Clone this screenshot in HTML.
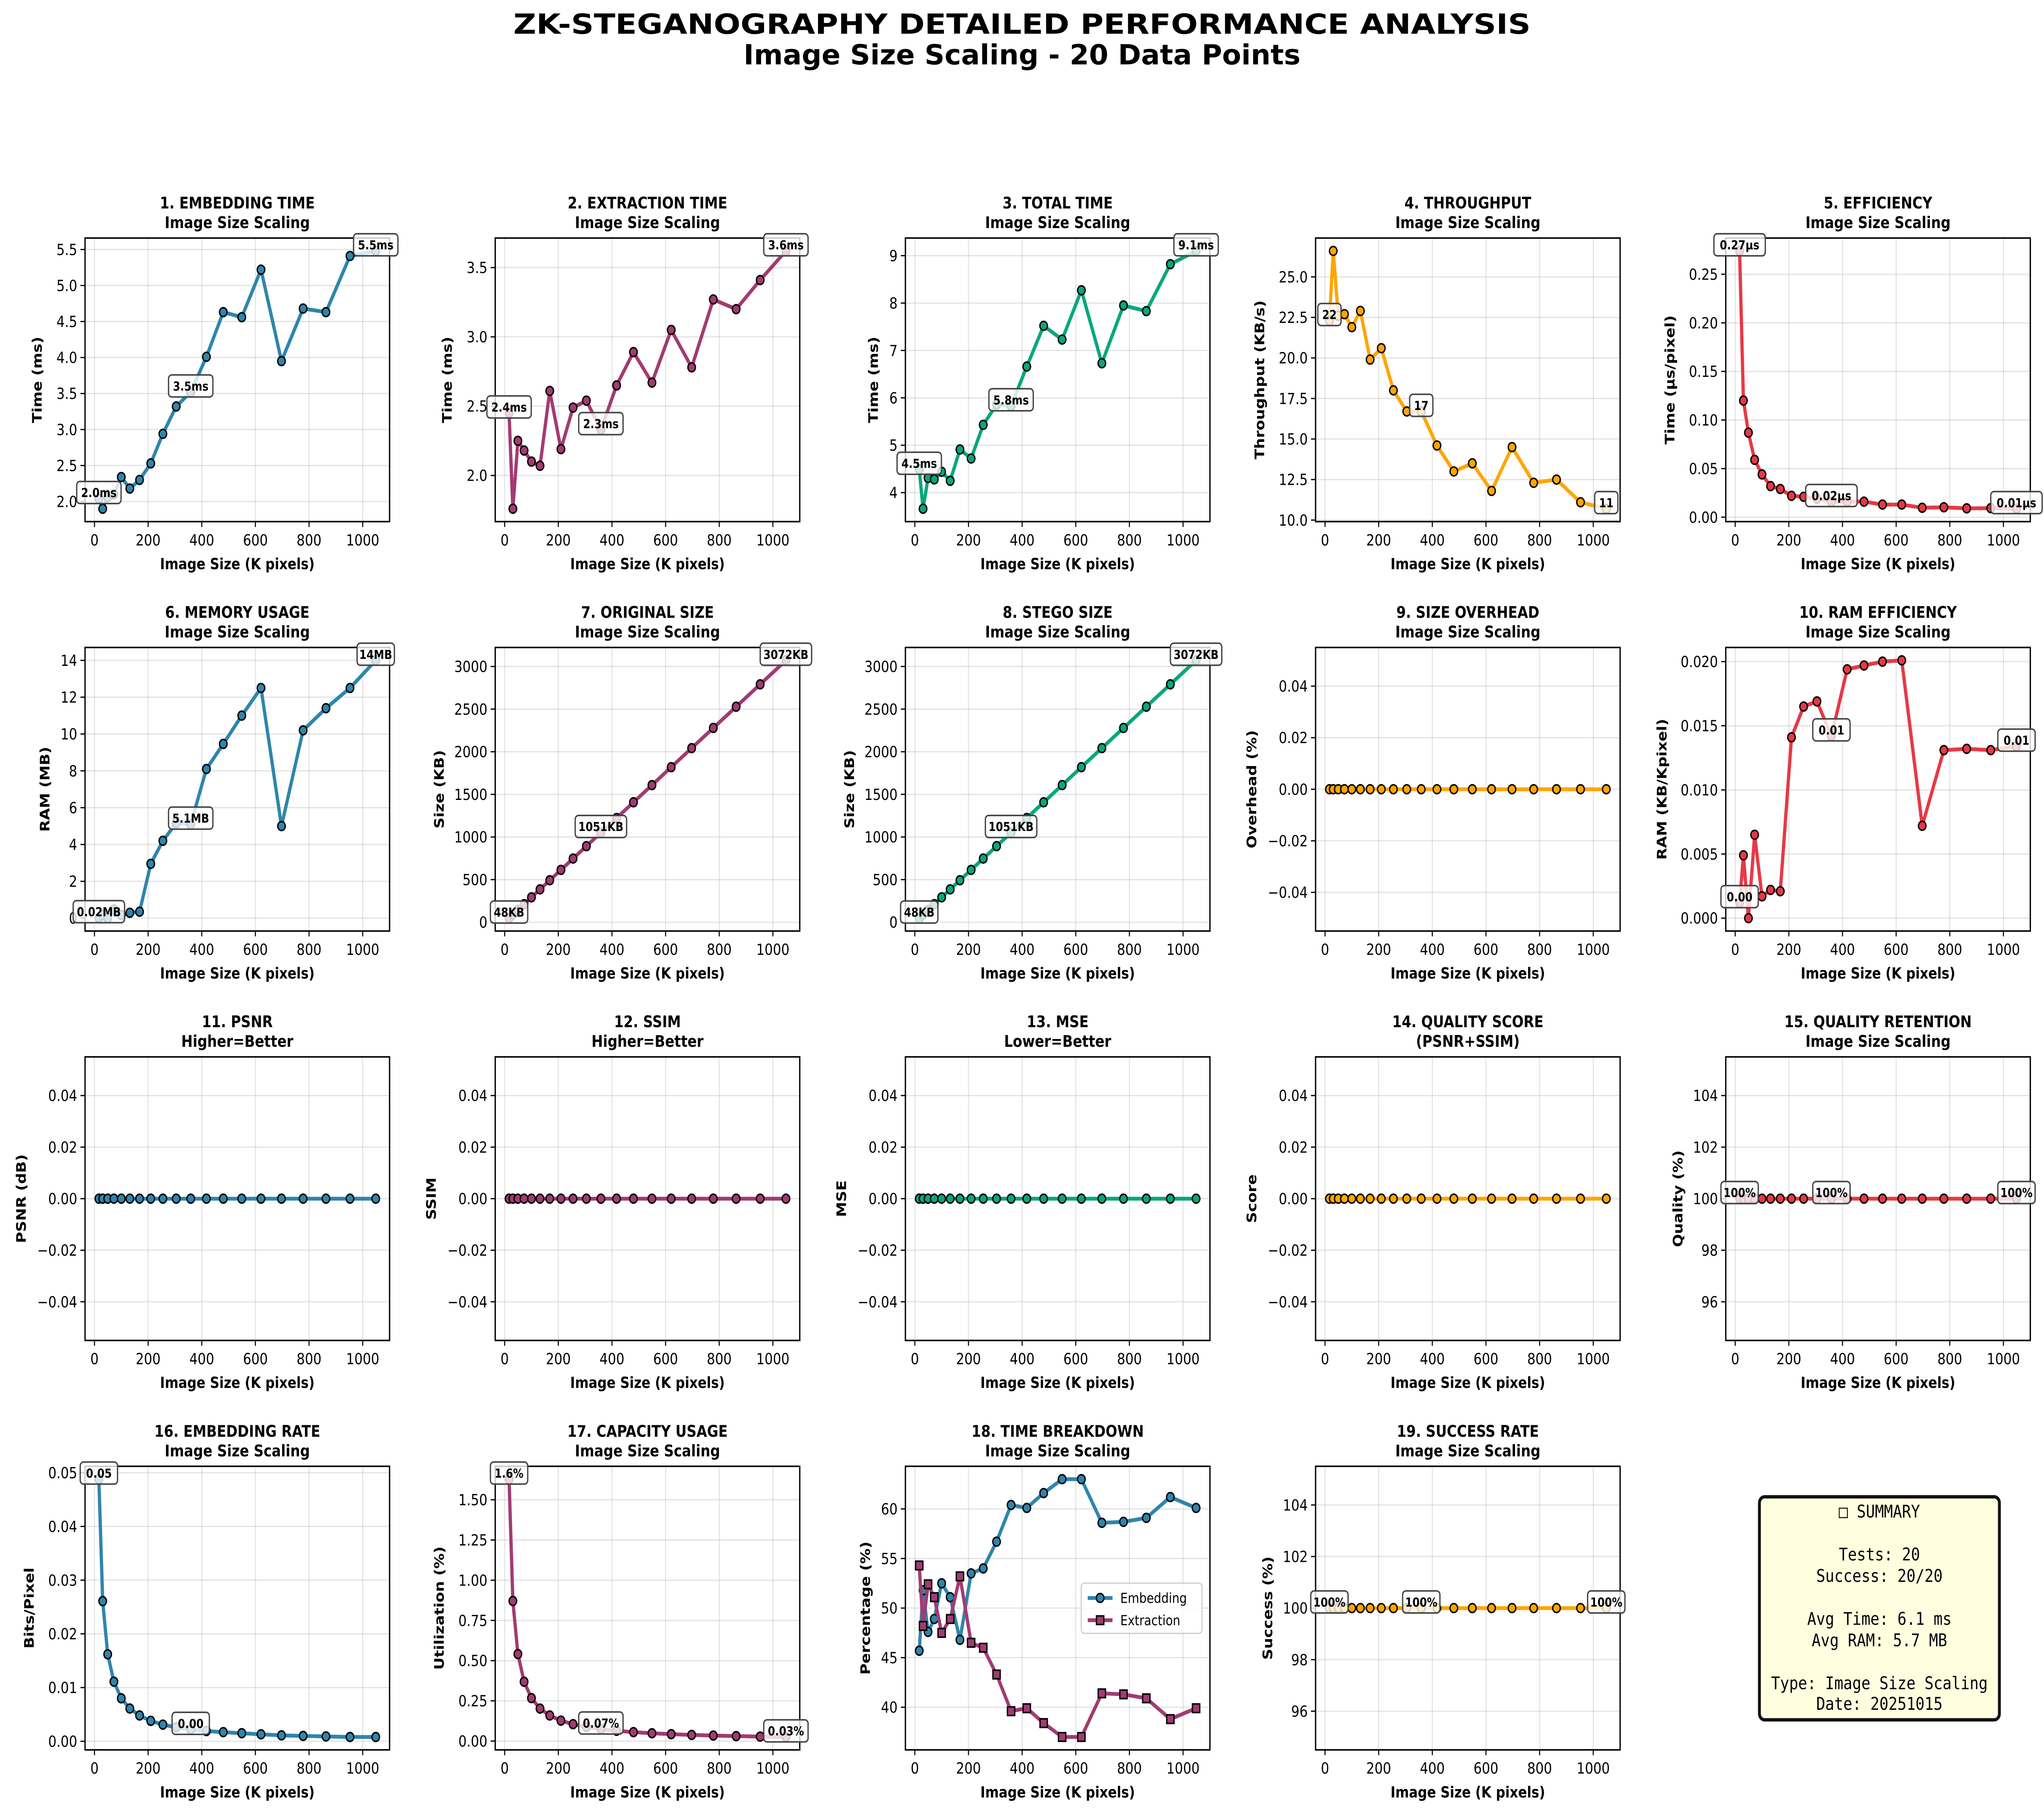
<!DOCTYPE html>
<html><head><meta charset="utf-8"><title>ZK-Steganography Performance</title>
<style>
html,body{margin:0;padding:0;background:#fff;overflow:hidden;width:100vw;height:100vh;}
#fig{display:block;width:100vw;height:100vh;}
text{font-family:"DejaVu Sans","Liberation Sans",sans-serif;}
</style></head>
<body>
<svg id="fig" xmlns="http://www.w3.org/2000/svg" viewBox="0 0 1567.2 1182.13" preserveAspectRatio="none">
<rect x="0" y="0" width="1567.2" height="1182.13" fill="#fff"/>
<text x="783.6" y="22" text-anchor="middle" font-size="18" font-weight="bold" textLength="780" lengthAdjust="spacingAndGlyphs">ZK-STEGANOGRAPHY DETAILED PERFORMANCE ANALYSIS</text>
<text x="783.6" y="42" text-anchor="middle" font-size="18" font-weight="bold" textLength="427" lengthAdjust="spacingAndGlyphs">Image Size Scaling - 20 Data Points</text>
<g id="panels"></g>
<g>
<rect x="1349" y="976.5" width="184" height="145.5" rx="4" fill="#FFFFE0" stroke="#111" stroke-width="2.2"/>
<g font-size="11.5" text-anchor="middle" fill="#000">
<text x="1441" y="990" style="font-family:'DejaVu Sans Mono','Liberation Mono',monospace">□ SUMMARY</text>
<text x="1441" y="1018" style="font-family:'DejaVu Sans Mono','Liberation Mono',monospace">Tests: 20</text>
<text x="1441" y="1032" style="font-family:'DejaVu Sans Mono','Liberation Mono',monospace">Success: 20/20</text>
<text x="1441" y="1060" style="font-family:'DejaVu Sans Mono','Liberation Mono',monospace">Avg Time: 6.1 ms</text>
<text x="1441" y="1074" style="font-family:'DejaVu Sans Mono','Liberation Mono',monospace">Avg RAM: 5.7 MB</text>
<text x="1441" y="1102" style="font-family:'DejaVu Sans Mono','Liberation Mono',monospace">Type: Image Size Scaling</text>
<text x="1441" y="1115.5" style="font-family:'DejaVu Sans Mono','Liberation Mono',monospace">Date: 20251015</text>
</g>
</g>
</svg>
<script>
const xs=[16.4,30.6,49.3,72.4,99.9,131.8,168.1,209.8,255.0,304.7,358.8,417.3,480.2,549.1,620.9,697.2,777.9,863.0,952.6,1048.6];
const embTime=[2.04,1.90,2.06,2.10,2.34,2.18,2.30,2.53,2.94,3.32,3.52,4.01,4.63,4.56,5.22,3.95,4.68,4.63,5.41,5.48];
const extTime=[2.45,1.76,2.25,2.18,2.10,2.07,2.61,2.19,2.49,2.54,2.33,2.65,2.89,2.67,3.05,2.78,3.27,3.20,3.41,3.62];
const totalTime=[4.49,3.66,4.31,4.28,4.44,4.25,4.91,4.72,5.43,5.86,5.83,6.66,7.52,7.23,8.27,6.73,7.95,7.83,8.82,9.10];
const throughput=[22.3,26.6,22.6,22.7,21.9,22.9,19.9,20.6,18.0,16.7,16.7,14.6,13.0,13.5,11.8,14.5,12.3,12.5,11.1,10.7];
const efficiency=[0.274,0.120,0.087,0.059,0.044,0.032,0.029,0.022,0.021,0.019,0.016,0.016,0.016,0.013,0.013,0.0097,0.0102,0.0091,0.0093,0.0087];
const ramMB=[0.02,0.15,0.0,0.47,0.17,0.29,0.35,2.95,4.2,5.16,5.1,8.1,9.46,11.0,12.5,5.0,10.2,11.4,12.5,14.0];
const origKB=[48.0,89.7,144.4,212.0,292.5,386.0,492.5,614.5,747.1,892.7,1051.2,1222.6,1407.0,1608.6,1819.2,2042.6,2279.1,2528.4,2790.8,3072.0];
const stegoKB=[48.0,89.7,144.4,212.0,292.5,386.0,492.5,614.5,747.1,892.7,1051.2,1222.6,1407.0,1608.6,1819.2,2042.6,2279.1,2528.4,2790.8,3072.0];
const overhead=[0,0,0,0,0,0,0,0,0,0,0,0,0,0,0,0,0,0,0,0];
const ramEff=[0.0012,0.0049,0.0,0.0065,0.0017,0.0022,0.0021,0.0141,0.0165,0.0169,0.0142,0.0194,0.0197,0.0200,0.0201,0.0072,0.0131,0.0132,0.0131,0.0134];
const psnr=[0,0,0,0,0,0,0,0,0,0,0,0,0,0,0,0,0,0,0,0];
const ssim=[0,0,0,0,0,0,0,0,0,0,0,0,0,0,0,0,0,0,0,0];
const mse=[0,0,0,0,0,0,0,0,0,0,0,0,0,0,0,0,0,0,0,0];
const qualityScore=[0,0,0,0,0,0,0,0,0,0,0,0,0,0,0,0,0,0,0,0];
const retention=[100,100,100,100,100,100,100,100,100,100,100,100,100,100,100,100,100,100,100,100];
const embRate=[0.0488,0.0261,0.0162,0.0111,0.0080,0.0061,0.0048,0.0038,0.0031,0.0026,0.0022,0.0019,0.0017,0.0015,0.0013,0.0011,0.0010,0.0009,0.0008,0.0008];
const capUsage=[1.628,0.871,0.541,0.369,0.267,0.202,0.159,0.127,0.105,0.0875,0.0743,0.0639,0.0555,0.0486,0.0429,0.0382,0.0343,0.0309,0.0280,0.0254];
const embPct=[45.7,51.8,47.6,48.9,52.5,51.1,46.8,53.5,54.0,56.7,60.4,60.1,61.6,63.0,63.0,58.6,58.7,59.1,61.2,60.1];
const extPct=[54.3,48.2,52.4,51.1,47.5,48.9,53.2,46.5,46.0,43.3,39.6,39.9,38.4,37.0,37.0,41.4,41.3,40.9,38.8,39.9];
const successRate=[100,100,100,100,100,100,100,100,100,100,100,100,100,100,100,100,100,100,100,100];
const xTicks=[0,200,400,600,800,1000];
const ticksA=["2.0","2.5","3.0","3.5","4.0","4.5","5.0","5.5"];
const ticksB=["2.0","2.5","3.0","3.5"];
const ticksC=["4","5","6","7","8","9"];
const ticksD=["10.0","12.5","15.0","17.5","20.0","22.5","25.0"];
const ticksE=["0.00","0.05","0.10","0.15","0.20","0.25"];
const ticksF=["0","2","4","6","8","10","12","14"];
const ticksG=["0","500","1000","1500","2000","2500","3000"];
const ticksZ=["-0.04","-0.02","0.00","0.02","0.04"];
const ticksH=["0.000","0.005","0.010","0.015","0.020"];
const ticksQ=["96","98","100","102","104"];
const ticksR=["0.00","0.01","0.02","0.03","0.04","0.05"];
const ticksU=["0.00","0.25","0.50","0.75","1.00","1.25","1.50"];
const ticksP=["40","45","50","55","60"];
const lab1=["2.0ms","3.5ms","5.5ms"],lab2=["2.4ms","2.3ms","3.6ms"],lab3=["4.5ms","5.8ms","9.1ms"],lab4=["22","17","11"],lab5=["0.27μs","0.02μs","0.01μs"],lab6=["0.02MB","5.1MB","14MB"],lab7=["48KB","1051KB","3072KB"],lab10=["0.00","0.01","0.01"],lab15=["100%","100%","100%"],lab16=["0.05","0.00"],lab17=["1.6%","0.07%","0.03%"],lab19=["100%","100%","100%"];

const BLUE="#2E86AB",MAG="#A23B72",GRN="#06A77D",ORG="#FFA500",RED="#E63946";
const NS="http://www.w3.org/2000/svg";
const root=document.getElementById('panels');
function mk(tag,attrs,parent){const e=document.createElementNS(NS,tag);for(const k in attrs)e.setAttribute(k,attrs[k]);(parent||root).appendChild(e);return e;}

const panels=[
{t:"1. EMBEDDING TIME",s:"Image Size Scaling",yl:"Time (ms)",series:[{y:embTime,c:BLUE}],yt:ticksA,lab:lab1},
{t:"2. EXTRACTION TIME",s:"Image Size Scaling",yl:"Time (ms)",series:[{y:extTime,c:MAG}],yt:ticksB,lab:lab2},
{t:"3. TOTAL TIME",s:"Image Size Scaling",yl:"Time (ms)",series:[{y:totalTime,c:GRN}],yt:ticksC,lab:lab3},
{t:"4. THROUGHPUT",s:"Image Size Scaling",yl:"Throughput (KB/s)",series:[{y:throughput,c:ORG}],yt:ticksD,lab:lab4},
{t:"5. EFFICIENCY",s:"Image Size Scaling",yl:"Time (μs/pixel)",series:[{y:efficiency,c:RED}],yt:ticksE,lab:lab5},
{t:"6. MEMORY USAGE",s:"Image Size Scaling",yl:"RAM (MB)",series:[{y:ramMB,c:BLUE}],yt:ticksF,lab:lab6},
{t:"7. ORIGINAL SIZE",s:"Image Size Scaling",yl:"Size (KB)",series:[{y:origKB,c:MAG}],yt:ticksG,lab:lab7},
{t:"8. STEGO SIZE",s:"Image Size Scaling",yl:"Size (KB)",series:[{y:stegoKB,c:GRN}],yt:ticksG,lab:lab7},
{t:"9. SIZE OVERHEAD",s:"Image Size Scaling",yl:"Overhead (%)",series:[{y:overhead,c:ORG}],yt:ticksZ,lab:null},
{t:"10. RAM EFFICIENCY",s:"Image Size Scaling",yl:"RAM (KB/Kpixel)",series:[{y:ramEff,c:RED}],yt:ticksH,lab:lab10},
{t:"11. PSNR",s:"Higher=Better",yl:"PSNR (dB)",series:[{y:psnr,c:BLUE}],yt:ticksZ,lab:null},
{t:"12. SSIM",s:"Higher=Better",yl:"SSIM",series:[{y:ssim,c:MAG}],yt:ticksZ,lab:null},
{t:"13. MSE",s:"Lower=Better",yl:"MSE",series:[{y:mse,c:GRN}],yt:ticksZ,lab:null},
{t:"14. QUALITY SCORE",s:"(PSNR+SSIM)",yl:"Score",series:[{y:qualityScore,c:ORG}],yt:ticksZ,lab:null},
{t:"15. QUALITY RETENTION",s:"Image Size Scaling",yl:"Quality (%)",series:[{y:retention,c:RED}],yt:ticksQ,lab:lab15},
{t:"16. EMBEDDING RATE",s:"Image Size Scaling",yl:"Bits/Pixel",series:[{y:embRate,c:BLUE}],yt:ticksR,lab:lab16},
{t:"17. CAPACITY USAGE",s:"Image Size Scaling",yl:"Utilization (%)",series:[{y:capUsage,c:MAG}],yt:ticksU,lab:lab17},
{t:"18. TIME BREAKDOWN",s:"Image Size Scaling",yl:"Percentage (%)",series:[{y:embPct,c:BLUE,name:"Embedding"},{y:extPct,c:MAG,sq:true,name:"Extraction"}],yt:ticksP,lab:null,legend:true},
{t:"19. SUCCESS RATE",s:"Image Size Scaling",yl:"Success (%)",series:[{y:successRate,c:ORG}],yt:ticksQ,lab:lab19}
];
const W=233.5,H=185;
const labIdx=[0,10,19];

panels.forEach((p,i)=>{
  const r=Math.floor(i/5),c=i%5;
  const L=65.2+c*314.5,T=155.3+r*267.1,B=T+H,R=L+W;
  const g=mk('g',{});
  
  
  let xmin=Math.min(...xs),xmax=Math.max(...xs);let xm=(xmax-xmin)*0.05;const x0=xmin-xm,x1=xmax+xm;
  let all=[];p.series.forEach(s=>all=all.concat(s.y));
  let ymin=Math.min(...all),ymax=Math.max(...all);
  if(ymax-ymin<1e-12){const d=Math.abs(ymin)>0?Math.abs(ymin)*0.05:0.05;ymin-=d;ymax+=d;}
  let ym=(ymax-ymin)*0.05;const y0=ymin-ym,y1=ymax+ym;
  const sx=v=>L+(v-x0)/(x1-x0)*W;
  const sy=v=>B-(v-y0)/(y1-y0)*H;
  mk('rect',{x:L,y:T,width:W,height:H,fill:'#fff'},g);
  xTicks.forEach(v=>{const X=sx(v);const gl=mk('line',{x1:X,x2:X,y1:T,y2:B,stroke:'#b0b0b0','stroke-opacity':0.35,'stroke-width':0.8},g);
    });
  p.yt.forEach(tl=>{const Y=sy(parseFloat(tl));const gl=mk('line',{x1:L,x2:R,y1:Y,y2:Y,stroke:'#b0b0b0','stroke-opacity':0.35,'stroke-width':0.8},g);
    });
  p.series.forEach((s,si)=>{
    const pts=s.y.map((v,k)=>sx(xs[k]).toFixed(2)+','+sy(v).toFixed(2)).join(' ');
    const pl=mk('polyline',{points:pts,fill:'none',stroke:s.c,'stroke-width':2.5,'stroke-linejoin':'round'},g);
    
    
    s.y.forEach((v,k)=>{
      let m;
      if(s.sq){m=mk('rect',{x:sx(xs[k])-2.8,y:sy(v)-2.8,width:5.6,height:5.6,fill:s.c,stroke:'#000','stroke-width':1},g);}
      else{m=mk('circle',{cx:sx(xs[k]),cy:sy(v),r:2.9,fill:s.c,stroke:'#000','stroke-width':1},g);}
      
      
    });
  });
  const fr=mk('rect',{x:L,y:T,width:W,height:H,fill:'none',stroke:'#000','stroke-width':1},g);
  
  xTicks.forEach(v=>{const X=sx(v);mk('line',{x1:X,x2:X,y1:B,y2:B+3.5,stroke:'#000','stroke-width':0.8},g);
    const t=mk('text',{x:X,y:B+15.5,'text-anchor':'middle','font-size':10},g);t.textContent=String(v);
    });
  let maxW=0;
  p.yt.forEach(tl=>{const Y=sy(parseFloat(tl));mk('line',{x1:L-3.5,x2:L,y1:Y,y2:Y,stroke:'#000','stroke-width':0.8},g);
    const t=mk('text',{x:L-6,y:Y+3.6,'text-anchor':'end','font-size':10},g);t.textContent=tl.replace('-','\u2212');
    
    maxW=Math.max(maxW,tl.length*6.1);});
  const xl=mk('text',{x:L+W/2,y:B+31,'text-anchor':'middle','font-size':10,'font-weight':'bold'},g);xl.textContent='Image Size (K pixels)';
  
  const ycx=L-7-maxW-11.5;
  const yl=mk('text',{x:ycx,y:T+H/2,'text-anchor':'middle','font-size':10,'font-weight':'bold',transform:'rotate(-90 '+(ycx)+' '+(T+H/2)+')',dy:'0.35em'},g);yl.textContent=p.yl;
  
  const t1=mk('text',{x:L+W/2,y:T-19.3,'text-anchor':'middle','font-size':10.5,'font-weight':'bold'},g);t1.textContent=p.t;
  
  const t2=mk('text',{x:L+W/2,y:T-6.5,'text-anchor':'middle','font-size':10.5,'font-weight':'bold'},g);t2.textContent=p.s;
  
  if(p.lab){p.lab.forEach((txt,j)=>{
    const k=labIdx[j];const v=p.series[0].y[k];const X=sx(xs[k]),Y=sy(v)-4;
    const ag=mk('g',{},g);
    
    
    const w=txt.length*5.4;
    mk('rect',{x:X-w/2-3.5,y:Y-7.2,width:w+7,height:14.4,rx:2.5,fill:'#fff','fill-opacity':0.8,stroke:'#444','stroke-width':1},ag);
    const tx=mk('text',{x:X,y:Y+3,'text-anchor':'middle','font-size':8,'font-weight':'bold'},ag);tx.textContent=txt;
  });}
  if(p.legend){
    const lg=mk('g',{},g);
    
    
    mk('rect',{x:829,y:1032.8,width:92.6,height:32.8,rx:2.5,fill:'#fff','fill-opacity':0.8,stroke:'#ccc','stroke-width':0.8},lg);
    p.series.forEach((s,si)=>{
      const yy=1042.5+si*14.5;
      const le=mk('g',{},lg);
      
      
      mk('line',{x1:834,x2:853,y1:yy,y2:yy,stroke:s.c,'stroke-width':2.5},le);
      if(s.sq)mk('rect',{x:840.7,y:yy-2.8,width:5.6,height:5.6,fill:s.c,stroke:'#000','stroke-width':1},le);
      else mk('circle',{cx:843.5,cy:yy,r:2.9,fill:s.c,stroke:'#000','stroke-width':1},le);
      const tt=mk('text',{x:859,y:yy+3.3,'font-size':9},le);tt.textContent=s.name;
    });
  }
});
</script>
</body></html>
